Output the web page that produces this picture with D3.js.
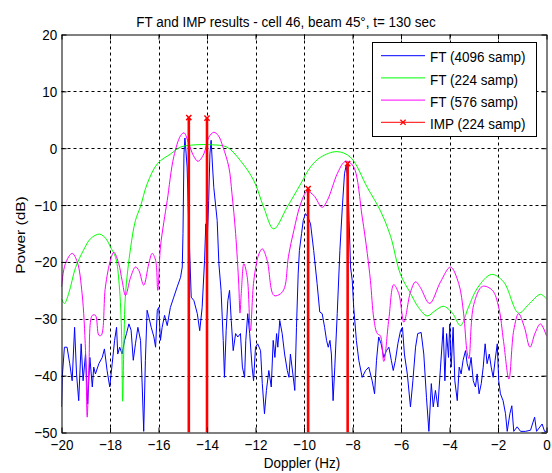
<!DOCTYPE html>
<html><head><meta charset="utf-8">
<script src="https://cdn.jsdelivr.net/npm/d3@7"></script>
<style>
body{margin:0;background:#fff}
svg text{font-family:"Liberation Sans",Arial,Helvetica,sans-serif}
</style>
</head><body>
<svg id="c" width="552" height="473"></svg>
<script>
// ---------- data ----------
const titleText = "FT and IMP results - cell 46, beam 45°, t= 130 sec";
const xLabelText = "Doppler (Hz)";
const yLabelText = "Power (dB)";
const xTicks = [-20,-18,-16,-14,-12,-10,-8,-6,-4,-2,0];
const yTicks = [-50,-40,-30,-20,-10,0,10,20];
const seriesNames = ["FT (4096 samp)","FT (224 samp)","FT (576 samp)","IMP (224 samp)"];
const seriesColors = ["#0000ff","#00ff00","#ff00ff","#ff0000"];

// FT (4096 samp): [Doppler Hz, Power dB]
const ft4096 = [[-20.00,-45.5],[-19.97,-40.3],[-19.88,-35],[-19.77,-35],[-19.66,-37.9],[-19.56,-40.9],[-19.46,-31.5],[-19.38,-39.7],[-19.29,-44.4],[-19.19,-34.4],[-19.11,-40.9],[-19.01,-36.2],[-18.92,-45],[-18.83,-36.8],[-18.73,-42],[-18.67,-38.5],[-18.60,-39.7],[-18.46,-37.9],[-18.32,-36.8],[-18.23,-35.3],[-18.12,-39.1],[-18.01,-42],[-17.91,-37.9],[-17.81,-33.8],[-17.73,-31.5],[-17.68,-36.2],[-17.60,-35],[-17.50,-36.2],[-17.40,-33.8],[-17.32,-32.6],[-17.22,-30.9],[-17.13,-32],[-17.04,-37.3],[-16.95,-34.4],[-16.85,-31.5],[-16.74,-33.8],[-16.67,-42],[-16.61,-49.8],[-16.54,-37.3],[-16.47,-28.5],[-16.40,-29.7],[-16.30,-31.5],[-16.19,-33.2],[-16.12,-35],[-16.05,-28.5],[-15.99,-28],[-15.92,-33.8],[-15.85,-31.5],[-15.75,-29.4],[-15.64,-31.2],[-15.51,-28],[-15.37,-26.2],[-15.23,-24.4],[-15.09,-22.7],[-15.02,-20.9],[-14.99,-15],[-14.95,-1],[-14.91,1.8],[-14.82,-3.3],[-14.75,-13.9],[-14.65,-26.2],[-14.54,-26.8],[-14.40,-29.1],[-14.30,-32.1],[-14.20,-28],[-14.10,-19.7],[-14.05,-13.3],[-13.99,-16.2],[-13.93,-9.2],[-13.88,-1],[-13.83,1.4],[-13.77,-3.3],[-13.72,-6.9],[-13.58,-12.7],[-13.51,-20.3],[-13.42,-25],[-13.33,-33.8],[-13.28,-40.3],[-13.21,-32.1],[-13.14,-26.8],[-13.07,-25],[-13.00,-30.3],[-12.92,-35.6],[-12.82,-32.6],[-12.73,-33.2],[-12.62,-32.6],[-12.54,-38.5],[-12.45,-40.3],[-12.40,-33.8],[-12.32,-29.1],[-12.24,-32.6],[-12.14,-38.5],[-12.08,-40.9],[-12.00,-35],[-11.91,-34.4],[-11.79,-35.6],[-11.72,-41.4],[-11.63,-46.7],[-11.55,-42.6],[-11.45,-39.1],[-11.35,-42],[-11.27,-33.8],[-11.20,-36.8],[-11.13,-32.6],[-11.08,-35],[-11.00,-30.3],[-10.90,-32.6],[-10.80,-36.2],[-10.69,-39.1],[-10.62,-40.3],[-10.56,-36.2],[-10.46,-39.7],[-10.38,-42.6],[-10.31,-31.5],[-10.24,-22.1],[-10.19,-18],[-10.10,-15],[-10.03,-12.7],[-9.94,-11.5],[-9.84,-12.1],[-9.73,-13.3],[-9.60,-18],[-9.46,-23.8],[-9.35,-28.8],[-9.25,-29.1],[-9.15,-31.5],[-9.07,-33.8],[-9.00,-35],[-8.93,-33.8],[-8.87,-36.2],[-8.80,-44.4],[-8.73,-38.5],[-8.63,-29.1],[-8.52,-18],[-8.42,-10.4],[-8.33,-4.5],[-8.26,-3],[-8.19,-5.7],[-8.14,-12.7],[-8.08,-20.9],[-8.01,-23.3],[-7.95,-28],[-7.84,-33.8],[-7.74,-37.3],[-7.60,-40.3],[-7.46,-39.1],[-7.33,-38.5],[-7.19,-40.9],[-7.09,-43.2],[-7.01,-37.3],[-6.92,-33.2],[-6.82,-34.4],[-6.71,-36.8],[-6.60,-35.6],[-6.50,-35],[-6.40,-37.3],[-6.32,-39.1],[-6.23,-37.3],[-6.13,-34.4],[-6.02,-32.1],[-5.94,-31.5],[-5.86,-36.2],[-5.74,-39.7],[-5.61,-45.5],[-5.51,-40.9],[-5.40,-35],[-5.31,-32.6],[-5.17,-32.4],[-5.06,-36.2],[-4.95,-43.8],[-4.85,-49.8],[-4.75,-41.4],[-4.67,-45.5],[-4.58,-42.6],[-4.48,-45.5],[-4.37,-38.5],[-4.26,-31.5],[-4.19,-40.9],[-4.12,-32.6],[-4.04,-36.8],[-3.99,-30.9],[-3.93,-38.5],[-3.85,-31.5],[-3.78,-40.9],[-3.68,-44.4],[-3.60,-38.5],[-3.52,-39.7],[-3.44,-37.3],[-3.34,-35.6],[-3.27,-37.9],[-3.19,-39.1],[-3.11,-36.8],[-3.02,-40.9],[-2.93,-42],[-2.86,-39.7],[-2.78,-43.2],[-2.69,-41.4],[-2.61,-38.5],[-2.53,-34.4],[-2.45,-37.9],[-2.36,-36.2],[-2.28,-38.5],[-2.20,-40.3],[-2.12,-37.3],[-2.03,-34.4],[-1.97,-40.9],[-1.90,-43.2],[-1.79,-44.4],[-1.69,-46.7],[-1.62,-49.8],[-1.51,-46.7],[-1.43,-45.3],[-1.35,-49.8],[-1.21,-49],[-1.07,-49.8],[-0.87,-49.8],[-0.66,-49.6],[-0.49,-47.3],[-0.41,-49.8],[-0.18,-48.5],[-0.08,-49.8],[0,-49.8]];

// FT (224 samp)
const ft224 = [[-20,-26.5],[-19.88,-27.3],[-19.7,-25.5],[-19.42,-21],[-19.1,-18],[-18.8,-15.9],[-18.43,-15.1],[-18.15,-16],[-17.98,-17.4],[-17.77,-19.2],[-17.62,-24],[-17.52,-33],[-17.48,-44.5],[-17.42,-33],[-17.36,-25.6],[-17.15,-17.5],[-16.95,-12.7],[-16.74,-10.2],[-16.47,-6.3],[-16.04,-2.7],[-15.5,-1],[-15.09,0.2],[-14.47,0.6],[-13.8,0.6],[-13.18,0.2],[-12.62,-2.2],[-12.07,-5.7],[-11.66,-10.4],[-11.25,-14.2],[-10.7,-10.4],[-10.14,-6.3],[-9.73,-3.3],[-9.32,-1.6],[-8.64,-0.6],[-8.08,-1.6],[-7.39,-6.9],[-6.85,-11],[-6.43,-15.5],[-6.02,-22.2],[-5.61,-25.5],[-5.28,-28],[-4.92,-29.5],[-4.6,-28.6],[-4.25,-27.8],[-3.88,-29],[-3.55,-31.2],[-3.22,-28],[-2.85,-24.6],[-2.27,-22.2],[-1.77,-23.5],[-1.15,-29],[-0.74,-27.5],[-0.25,-25.7],[0,-26.5]];

// FT (576 samp)
const ft576 = [[-20,-24.4],[-19.84,-20.3],[-19.56,-18.5],[-19.35,-20],[-19.15,-25.6],[-19.01,-35.6],[-18.94,-47.3],[-18.87,-38.5],[-18.73,-29.4],[-18.6,-29.4],[-18.46,-32.9],[-18.36,-32.9],[-18.19,-24.4],[-17.98,-19.7],[-17.84,-18.3],[-17.64,-20.3],[-17.5,-23.3],[-17.36,-25.9],[-17.15,-22.7],[-16.95,-20.9],[-16.81,-21.5],[-16.61,-24.1],[-16.4,-20.3],[-16.26,-18.5],[-16.12,-19.7],[-16.03,-25],[-15.92,-17.4],[-15.78,-13],[-15.64,-9.2],[-15.37,-1.5],[-15.09,2.2],[-14.95,2.7],[-14.75,0.8],[-14.56,-1.3],[-14.37,-2.3],[-14.13,-1],[-13.93,1.9],[-13.72,2.8],[-13.53,2.2],[-13.34,0.2],[-13.1,-3.3],[-12.97,-8],[-12.82,-15],[-12.69,-24],[-12.64,-29],[-12.58,-25],[-12.48,-20.3],[-12.34,-22.7],[-12.21,-32.1],[-12.07,-23.3],[-11.86,-18.6],[-11.72,-17.7],[-11.52,-19.7],[-11.24,-25.9],[-10.97,-25.6],[-10.8,-24.5],[-10.64,-19],[-10.42,-14.5],[-10.14,-9.8],[-9.87,-7.6],[-9.6,-8.3],[-9.25,-10.4],[-9.04,-9.2],[-8.63,-4.5],[-8.36,-2.5],[-8.22,-2.3],[-7.95,-3.3],[-7.6,-12.1],[-7.39,-18.5],[-7.26,-23.3],[-7.12,-30],[-6.98,-32.6],[-6.85,-33],[-6.71,-37.5],[-6.5,-30],[-6.3,-24],[-6.09,-25.6],[-5.88,-30.6],[-5.61,-25.3],[-5.4,-23.5],[-5.2,-24.5],[-4.82,-27.3],[-4.37,-23.5],[-3.96,-20.9],[-3.62,-23.8],[-3.42,-29],[-3.27,-36],[-3.2,-37],[-3.0,-27.5],[-2.64,-24.3],[-2.23,-25],[-1.97,-28],[-1.77,-34],[-1.55,-40.6],[-1.35,-32],[-1.15,-29.1],[-0.91,-31.5],[-0.68,-35],[-0.47,-32.5],[-0.25,-30.9],[0,-33]];

// IMP (224 samp)
const impFreq = [-14.75, -14.0, -9.83, -8.2];
const impPower = [5.4, 5.3, -7.1, -2.7];

// ---------- layout ----------
const SX = 0.87;           // horizontal squeeze of glyphs
const FS = 15.5;           // font size
const svg = d3.select("#c");
svg.append("rect").attr("width",552).attr("height",473).attr("fill","#fff");

const x = d3.scaleLinear().domain([-20,0]).range([61.5,546.5]);
const y = d3.scaleLinear().domain([-50,20]).range([432.5,34.5]);

// grid
const grid = svg.append("g").attr("stroke","#000").attr("stroke-width",1).attr("stroke-dasharray","3,3");
xTicks.slice(1,-1).forEach(t=>{
  grid.append("line").attr("x1",Math.round(x(t))+0.5).attr("x2",Math.round(x(t))+0.5)
    .attr("y1",y(20)).attr("y2",y(-50));
});
yTicks.slice(1,-1).forEach(t=>{
  grid.append("line").attr("y1",Math.round(y(t))+0.5).attr("y2",Math.round(y(t))+0.5)
    .attr("x1",x(-20)).attr("x2",x(0));
});

// clip
svg.append("clipPath").attr("id","plotclip").append("rect")
  .attr("x",x(-20)).attr("y",y(20)).attr("width",x(0)-x(-20)).attr("height",y(-50)-y(20));
const plot = svg.append("g").attr("clip-path","url(#plotclip)");

const lineLin = d3.line().x(d=>x(d[0])).y(d=>y(d[1]));
const lineSmooth = d3.line().x(d=>x(d[0])).y(d=>y(d[1])).curve(d3.curveCatmullRom.alpha(0.5));

plot.append("path").datum(ft4096).attr("d",lineLin).attr("fill","none")
  .attr("stroke",seriesColors[0]).attr("stroke-width",1);
plot.append("path").datum(ft224).attr("d",lineSmooth).attr("fill","none")
  .attr("stroke",seriesColors[1]).attr("stroke-width",1);
plot.append("path").datum(ft576).attr("d",lineSmooth).attr("fill","none")
  .attr("stroke",seriesColors[2]).attr("stroke-width",1);

// IMP stems
const stems = impFreq.map((f,i)=>({f, p: impPower[i]}));
const sg = plot.append("g");
sg.selectAll("line.stem").data(stems).join("line").attr("class","stem")
  .attr("x1",d=>x(d.f)).attr("x2",d=>x(d.f))
  .attr("y1",y(-50)).attr("y2",d=>y(d.p))
  .attr("stroke",seriesColors[3]).attr("stroke-width",2.6);
const mk = 2.6;
sg.selectAll("path.mk").data(stems).join("path").attr("class","mk")
  .attr("d",d=>{const cx=x(d.f), cy=y(d.p);
    return `M${cx-mk},${cy-mk}L${cx+mk},${cy+mk}M${cx-mk},${cy+mk}L${cx+mk},${cy-mk}`;})
  .attr("stroke",seriesColors[3]).attr("stroke-width",1.5).attr("fill","none");

// axes (ticks inward on all four sides)
function styleAxis(g){
  g.attr("font-size",null).attr("font-family",null);
  g.selectAll("path.domain").attr("stroke","#000");
  g.selectAll(".tick line").attr("stroke","#000");
  g.selectAll("text").attr("fill","#000").style("font-size",FS+"px")
    .attr("transform",`scale(${SX},1)`);
}
const fmt = d3.format("d");
svg.append("g").attr("transform",`translate(0,${y(-50)})`)
  .call(d3.axisBottom(x).tickValues(xTicks).tickFormat(fmt).tickSizeInner(-5).tickSizeOuter(0).tickPadding(6))
  .call(styleAxis);
svg.append("g").attr("transform",`translate(${x(-20)},0)`)
  .call(d3.axisLeft(y).tickValues(yTicks).tickFormat(fmt).tickSizeInner(-5).tickSizeOuter(0).tickPadding(5))
  .call(styleAxis);
svg.append("g").attr("transform",`translate(0,${y(20)})`)
  .call(d3.axisTop(x).tickValues(xTicks).tickFormat("").tickSizeInner(-5).tickSizeOuter(0))
  .call(styleAxis);
svg.append("g").attr("transform",`translate(${x(0)},0)`)
  .call(d3.axisRight(y).tickValues(yTicks).tickFormat("").tickSizeInner(-5).tickSizeOuter(0))
  .call(styleAxis);

// texts
function label(txt, tx, ty, rot){
  return svg.append("text")
    .attr("transform",`translate(${tx},${ty}) scale(${SX},1)` + (rot?" rotate(-90)":""))
    .attr("text-anchor","middle").style("font-size",FS+"px").attr("fill","#000").text(txt);
}
label(titleText, 286, 26.5);
label(xLabelText, 302, 467.5);
label(yLabelText, 25, 235, true);

// legend
const lg = svg.append("g");
lg.append("rect").attr("x",372.5).attr("y",42.5).attr("width",164).attr("height",94)
  .attr("fill","#fff").attr("stroke","#000");
const rowY = [55.7, 77.9, 100.1, 122.3];
seriesNames.forEach((n,i)=>{
  lg.append("line").attr("x1",381).attr("x2",425).attr("y1",rowY[i]).attr("y2",rowY[i])
    .attr("stroke",seriesColors[i]).attr("stroke-width",1);
  if(i===3){
    const cx=403, cy=rowY[i];
    lg.append("path").attr("d",`M${cx-mk},${cy-mk}L${cx+mk},${cy+mk}M${cx-mk},${cy+mk}L${cx+mk},${cy-mk}`)
      .attr("stroke",seriesColors[i]).attr("stroke-width",1.3).attr("fill","none");
  }
  lg.append("text").attr("transform",`translate(430,${rowY[i]+6.6}) scale(${SX},1)`)
    .style("font-size",FS+"px").attr("fill","#000").text(n);
});
</script>
</body></html>
